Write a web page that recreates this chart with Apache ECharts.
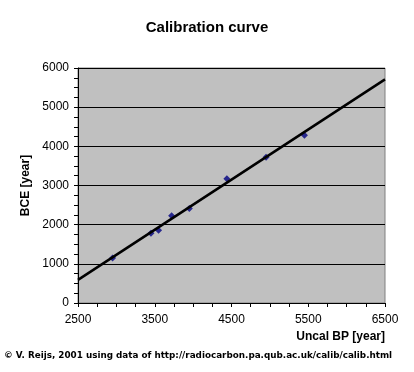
<!DOCTYPE html>
<html>
<head>
<meta charset="utf-8">
<style>html,body{margin:0;padding:0;background:#fff;}#c{width:414px;height:372px;}</style>
<script src="https://cdn.jsdelivr.net/npm/echarts@6/dist/echarts.min.js"></script>
</head>
<body>
<div id="c"></div>
<script>
// Calibration data points (Uncal BP vs BCE)
var uncalBP = [2950, 3450, 3550, 3720, 3950, 4440, 4950, 5450];
var bce = [1150, 1780, 1860, 2230, 2410, 3170, 3720, 4280];
// Trend line end points
var trendX = [2500, 6500];
var trendY = [590, 5710];
// Axis ticks
var xMin = 2500, xMax = 6500, xTickStep = 250, xLabelStep = 1000;
var yMin = 0, yMax = 6000, yStep = 1000;

var chart = echarts.init(document.getElementById('c'), null, {renderer: 'canvas'});
var font = '"Liberation Sans", Arial, sans-serif';
chart.setOption({
  animation: false,
  backgroundColor: '#ffffff',
  title: {
    text: 'Calibration curve',
    left: 'center',
    top: 15,
    textStyle: {fontFamily: font, fontSize: 15, fontWeight: 'bold', color: '#000'}
  },
  grid: {
    left: 78, right: 29, top: 68, bottom: 69,
    show: true, backgroundColor: '#c0c0c0', borderColor: '#808080', borderWidth: 1
  },
  xAxis: {
    type: 'value', min: xMin, max: xMax, interval: xTickStep,
    name: 'Uncal BP [year]', nameLocation: 'end', nameGap: 0,
    nameTextStyle: {fontFamily: font, fontSize: 12, fontWeight: 'bold', color: '#000',
      align: 'right', verticalAlign: 'top', padding: [28, 0, 0, 0]},
    axisLine: {lineStyle: {color: '#000', width: 1}},
    axisTick: {show: true, length: 4, inside: false, lineStyle: {color: '#000'}},
    axisLabel: {
      interval: 0, margin: 11, fontFamily: font, fontSize: 12, color: '#000',
      formatter: function (v) { return ((v - xMin) % xLabelStep === 0) ? String(v) : ''; }
    },
    splitLine: {show: false}
  },
  yAxis: {
    type: 'value', min: yMin, max: yMax, interval: yStep,
    name: 'BCE [year]', nameLocation: 'middle', nameGap: 44, nameRotate: 90,
    nameTextStyle: {fontFamily: font, fontSize: 12, fontWeight: 'bold', color: '#000'},
    axisLine: {show: true, lineStyle: {color: '#000', width: 1}},
    axisTick: {show: true, length: 4, inside: false, lineStyle: {color: '#000'}},
    minorTick: {show: true, splitNumber: 4, length: 4, lineStyle: {color: '#000'}},
    axisLabel: {margin: 9, fontFamily: font, fontSize: 12, color: '#000',
      formatter: function (v) { return String(v); }},
    splitLine: {show: true, lineStyle: {color: '#000', width: 1}}
  },
  series: [
    {
      type: 'line',
      data: trendX.map(function (x, i) { return [x, trendY[i]]; }),
      showSymbol: false, symbol: 'none',
      lineStyle: {color: '#000', width: 2.5},
      z: 3
    },
    {
      type: 'scatter',
      data: uncalBP.map(function (x, i) { return [x, bce[i]]; }),
      symbol: 'diamond', symbolSize: 7,
      itemStyle: {color: '#000080'},
      z: 2
    }
  ],
  graphic: [
    {
      type: 'text', left: 4, top: 351,
      style: {
        text: '\u00a9 V. Reijs, 2001 using data of http://radiocarbon.pa.qub.ac.uk/calib/calib.html',
        font: 'bold 8.8px "DejaVu Sans", sans-serif', fill: '#000'
      }
    }
  ]
});
</script>
</body>
</html>
